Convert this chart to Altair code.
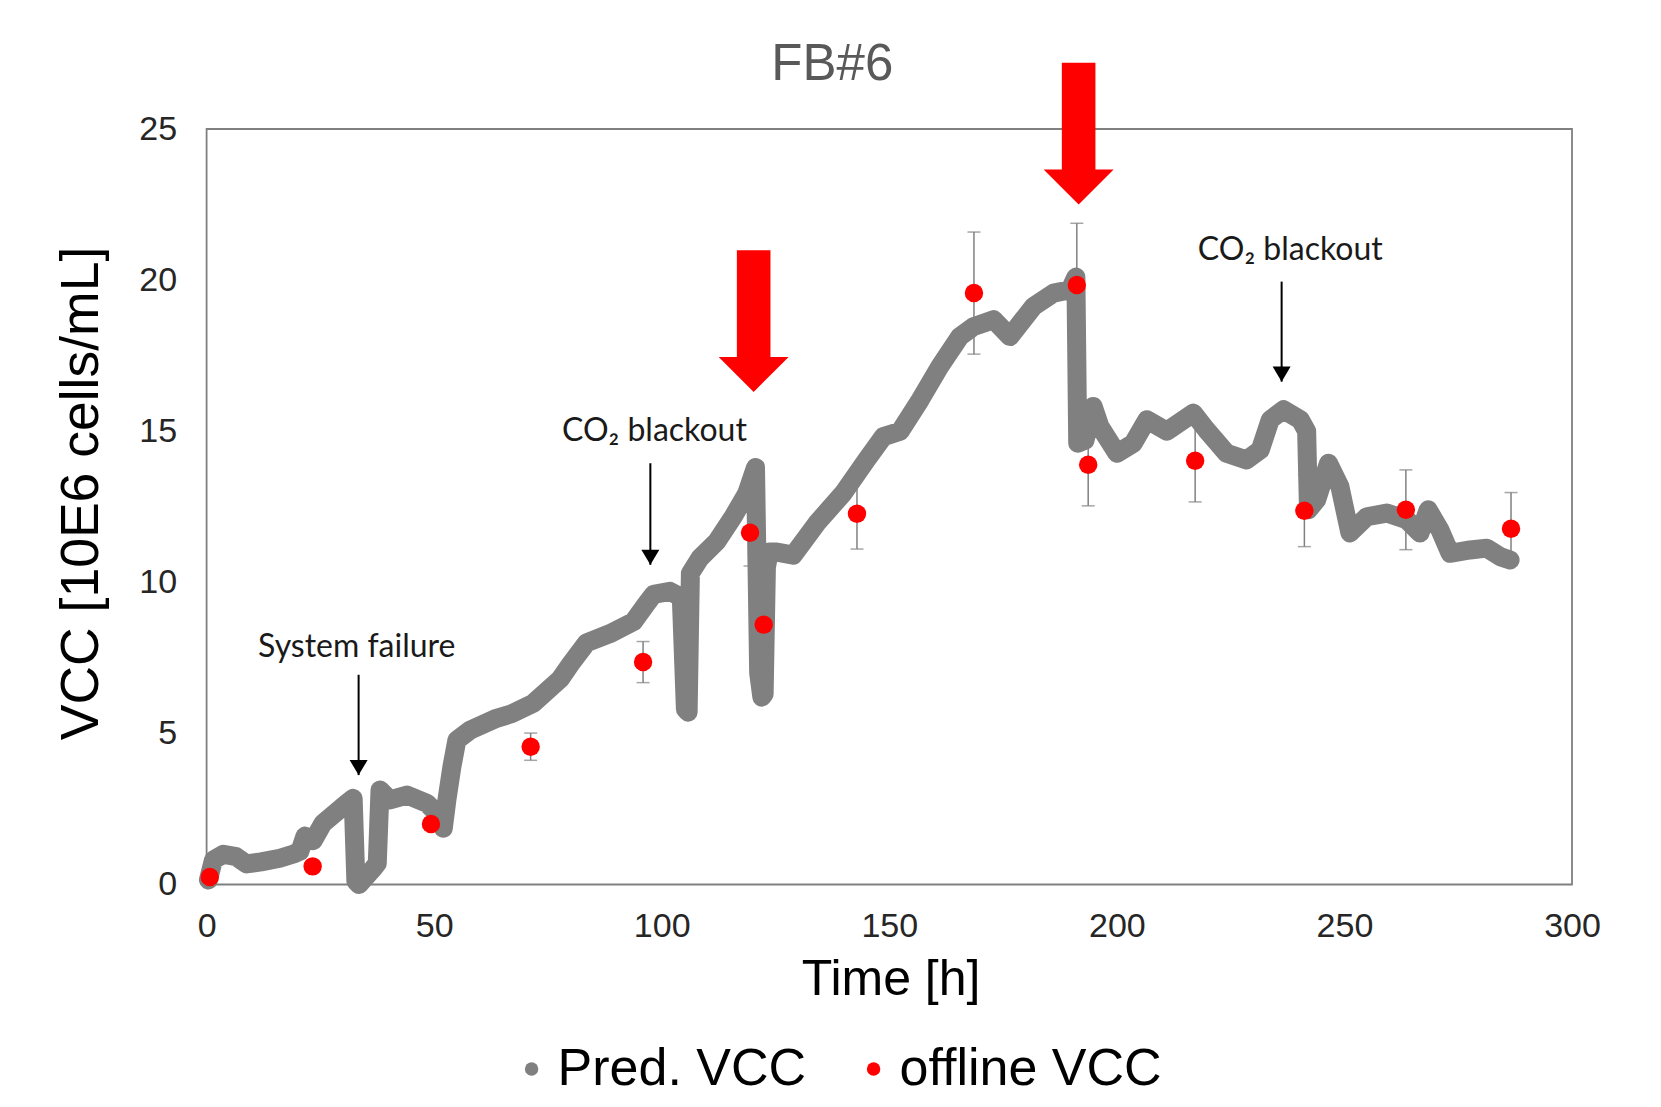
import altair as alt
import pandas as pd

# ---------------- data ----------------
pred_t = [0.4, 1.5, 3.7, 6.5, 8.8, 12.0, 16.1, 19.1, 20.5, 21.6, 23.4, 25.6, 28.6, 30.8, 32.2,
          32.8, 33.5, 36.6, 37.5, 38.1, 40.3, 44.0, 48.4, 50.6, 52.0, 52.8, 53.9, 55.0, 57.9,
          63.7, 67.0, 71.8, 77.7, 80.0, 83.5, 88.6, 93.8, 96.7, 98.2, 101.8, 104.3, 105.2,
          105.8, 106.3, 108.4, 112.1, 115.7, 118.7, 120.6, 121.3, 122.0, 122.5, 123.0, 123.6,
          125.3, 128.9, 134.1, 139.9, 145.0, 148.7, 152.4, 156.8, 161.1, 165.5, 168.5, 172.9,
          176.5, 181.7, 186.1, 189.7, 191.0, 191.4, 193.0, 194.8, 196.3, 200.0, 203.6, 206.6,
          211.0, 216.8, 219.7, 224.1, 228.5, 231.5, 233.7, 236.6, 240.3, 241.7, 242.1, 243.9,
          246.5, 249.0, 251.2, 254.9, 259.3, 263.7, 266.6, 268.4, 271.0, 273.2, 277.6, 281.3,
          284.2, 286.4]
pred_v = [0.15, 0.81, 1.0, 0.92, 0.68, 0.75, 0.87, 1.01, 1.1, 1.6, 1.45, 2.03, 2.41, 2.69, 2.85,
          0.1, 0.0, 0.53, 0.7, 3.13, 2.8, 2.96, 2.69, 2.36, 1.86, 2.8, 3.9, 4.78, 5.11,
          5.5, 5.65, 6.0, 6.8, 7.3, 8.0, 8.3, 8.7, 9.3, 9.6, 9.7, 9.5, 5.8,
          5.7, 10.3, 10.8, 11.35, 12.17, 12.95, 13.8, 7.0, 6.2, 6.3, 10.5, 11.0,
          11.0, 10.9, 11.96, 12.95, 14.05, 14.82, 15.0, 16.04, 17.14, 18.13, 18.46, 18.69,
          18.13, 19.13, 19.57, 19.68, 20.1, 14.6, 14.7, 15.82, 15.15, 14.27, 14.6, 15.38,
          15.0, 15.6, 15.04, 14.27, 14.05, 14.38, 15.38, 15.71, 15.38, 15.0, 12.4, 12.73,
          13.94, 13.17, 11.63, 12.17, 12.29, 12.07, 11.63, 12.4, 11.73, 10.96, 11.07, 11.13,
          10.85, 10.74]

off_t = [0.7, 23.3, 49.3, 71.2, 95.9, 119.4, 122.4, 142.9, 168.6, 191.2, 193.7, 217.2, 241.2, 263.5, 286.6]
off_v = [0.25, 0.6, 2.0, 4.56, 7.36, 11.64, 8.6, 12.27, 19.57, 19.84, 13.89, 14.02, 12.37, 12.40, 11.77]
off_err = [0.1, 0.15, 0.2, 0.45, 0.68, 1.1, 0.3, 1.17, 2.02, 2.04, 1.36, 1.36, 1.19, 1.32, 1.2]

series_names = ["Pred. VCC", "offline VCC"]
series_colors = ["#808080", "#ff0000"]

note_text = ["System failure", "CO\u2082 blackout", "CO\u2082 blackout"]
note_t = [33.0, 98.4, 238.1]
note_v = [7.54, 14.66, 20.67]
arrow_t = [33.4, 97.5, 236.2]
arrow_top = [6.94, 13.94, 19.95]
arrow_tip = [3.62, 10.58, 16.64]

feed_t = [120.2, 191.6]
feed_tip = [16.3, 22.5]

x_ticks = [0, 50, 100, 150, 200, 250, 300]
y_ticks = [0, 5, 10, 15, 20, 25]

# ---------------- frames ----------------
pred = pd.DataFrame({"t": pred_t, "v": pred_v, "order": list(range(len(pred_t)))})
off = pd.DataFrame({"t": off_t, "v": off_v,
                    "lo": [a - b for a, b in zip(off_v, off_err)],
                    "hi": [a + b for a, b in zip(off_v, off_err)],
                    "series": "offline VCC"})
notes = pd.DataFrame({"text": note_text, "t": note_t, "v": note_v})
arrows = pd.DataFrame({"t": arrow_t, "v": arrow_top, "v2": arrow_tip})
feeds = pd.DataFrame({"t": feed_t, "v": feed_tip})

FONT = "Liberation Sans"
xs = alt.Scale(domain=[0, 300], nice=False, zero=False)
ys = alt.Scale(domain=[0, 25], nice=False, zero=False)

xaxis = alt.Axis(values=x_ticks, title="Time [h]", titleFont=FONT, titleFontSize=50,
                 titleFontWeight="normal", titleColor="#000000", titleBaseline="alphabetic",
                 titleY=109.5, titleX=684, labelFont=FONT, labelFontSize=34, labelColor="#262626",
                 labelPadding=25, labelFlush=False, labelOverlap=False, ticks=False, tickSize=0,
                 domain=False, grid=False)
yaxis = alt.Axis(values=y_ticks, title="VCC [10E6 cells/mL]", titleFont=FONT, titleFontSize=53.5,
                 titleFontWeight="normal", titleColor="#000000", titleAngle=270,
                 titleAlign="center", titleBaseline="alphabetic", titleX=-109.6, titleY=364,
                 labelFont=FONT, labelFontSize=34, labelColor="#262626", labelPadding=30,
                 labelFlush=False, labelOverlap=False, ticks=False, tickSize=0,
                 domain=False, grid=False)


def X():
    return alt.X("t:Q", scale=xs, axis=xaxis)


def Y(f="v"):
    return alt.Y(f + ":Q", scale=ys, axis=yaxis)


err_rule = alt.Chart(off).mark_rule(color="#808080", strokeWidth=1.5).encode(
    x=X(), y=Y("lo"), y2="hi:Q")
cap_lo = alt.Chart(off).mark_tick(color="#808080", thickness=1.5, size=13, orient="horizontal").encode(
    x=X(), y=Y("lo"))
cap_hi = alt.Chart(off).mark_tick(color="#808080", thickness=1.5, size=13, orient="horizontal").encode(
    x=X(), y=Y("hi"))

line = alt.Chart(pred).mark_line(color="#808080", strokeWidth=19, strokeCap="round",
                                 strokeJoin="round").encode(x=X(), y=Y(), order="order:Q")

points = alt.Chart(off).mark_point(filled=True, opacity=1, size=340, strokeWidth=0, shape="circle").encode(
    x=X(), y=Y(),
    color=alt.Color("series:N", scale=alt.Scale(domain=series_names, range=series_colors),
                    legend=alt.Legend(orient="none", legendX=299, legendY=914, direction="horizontal",
                                      title=None, labelFont=FONT, labelFontSize=52, labelColor="#000000",
                                      labelLimit=500, symbolType="circle", symbolSize=180,
                                      symbolStrokeWidth=0, labelOffset=0, columnPadding=41, padding=0)))

note_marks = alt.Chart(notes).mark_text(font="Lato", fontSize=32, color="#1a1a1a",
                                        baseline="alphabetic", align="center").encode(
    x=X(), y=Y(), text="text:N")
arrow_line = alt.Chart(arrows).mark_rule(color="#000000", strokeWidth=2).encode(x=X(), y=Y(), y2="v2:Q")
arrow_head = alt.Chart(arrows).mark_point(filled=True, opacity=1, color="#000000", strokeWidth=0,
                                          size=324, shape="M -1 -1.67 L 1 -1.67 L 0 0 Z").encode(
    x=X(), y=Y("v2"))

feed_marks = alt.Chart(feeds).mark_point(
    filled=True, opacity=1, color="#ff0000", strokeWidth=0, size=4900,
    shape="M -0.48 -4.05 L 0.48 -4.05 L 0.48 -1.0 L 1.0 -1.0 L 0 0 L -1.0 -1.0 L -0.48 -1.0 Z").encode(
    x=X(), y=Y())

chart = alt.layer(err_rule, cap_lo, cap_hi, line, points, arrow_line, arrow_head, note_marks, feed_marks).properties(
    width=1365.4, height=755.5,
    title=alt.TitleParams("FB#6", font=FONT, fontSize=51, fontWeight="normal", color="#595959",
                          anchor="middle", dx=-57, dy=115, offset=47, baseline="alphabetic"),
    autosize=alt.AutoSizeParams(type="none"),
    padding={"left": 198.6, "top": 121, "right": 75, "bottom": 208.5},
).configure(background="white").configure_view(stroke="#808080", strokeWidth=1.8)

chart.save("out.html", embed_options={"renderer": "svg", "actions": False})
